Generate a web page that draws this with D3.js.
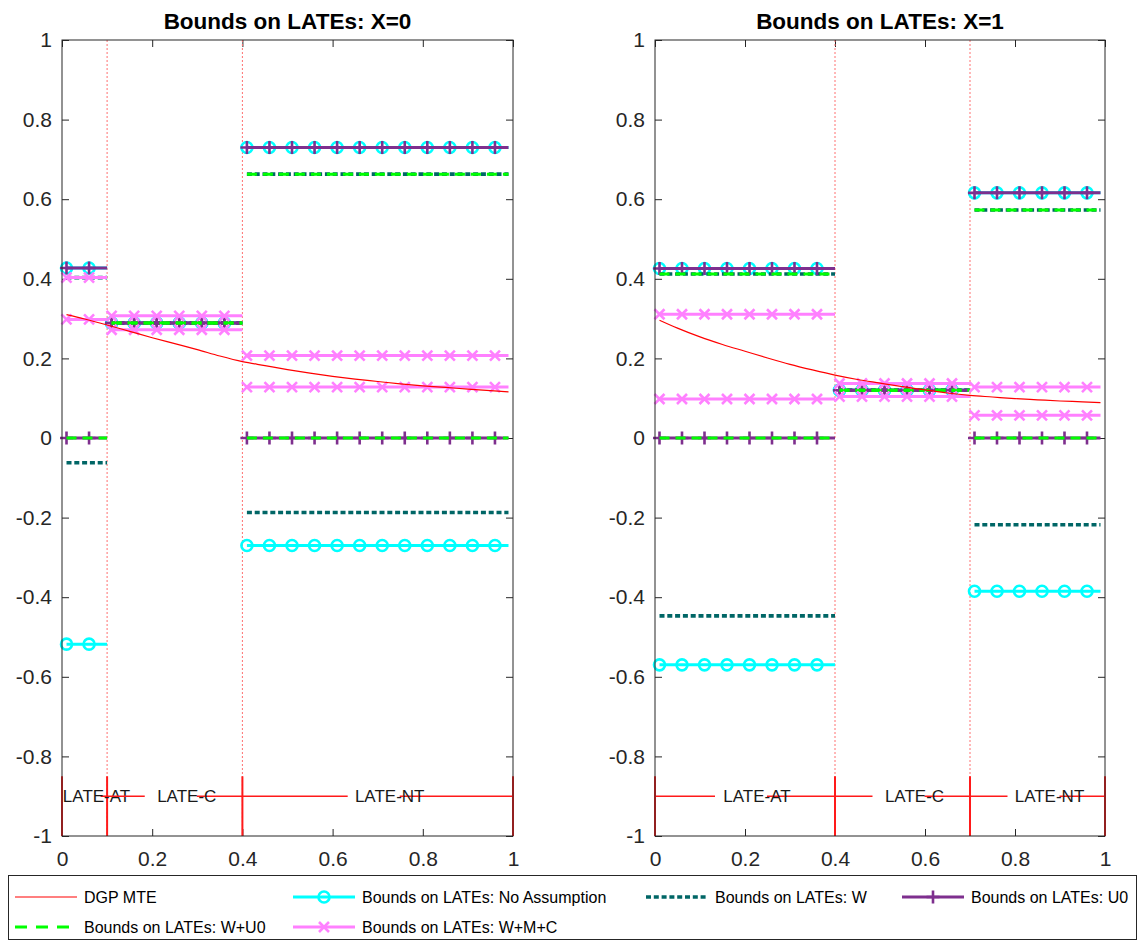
<!DOCTYPE html>
<html><head><meta charset="utf-8">
<script src="https://cdn.jsdelivr.net/npm/d3@7"></script>
<style>
body{margin:0;background:#fff}
svg{display:block;font-family:"Liberation Sans",Arial,Helvetica,sans-serif}
</style>
</head><body>
<svg id="chart" width="1144" height="943"></svg>
<script>
// ---------------- DATA ----------------
const panelTitles = ["Bounds on LATEs: X=0", "Bounds on LATEs: X=1"];
const xTicks = [0, 0.2, 0.4, 0.6, 0.8, 1];
const yTicks = [-1, -0.8, -0.6, -0.4, -0.2, 0, 0.2, 0.4, 0.6, 0.8, 1];
const regionLabels = ["LATE-AT", "LATE-C", "LATE-NT"];

// region boundaries (propensity score u)
const breaksX0 = [0, 0.1, 0.4, 1];
const breaksX1 = [0, 0.4, 0.7, 1];
// first / last grid point of each region
const segFromX0 = [0.01, 0.11, 0.41];
const segToX0   = [0.10, 0.40, 0.99];
const segFromX1 = [0.01, 0.41, 0.71];
const segToX1   = [0.40, 0.70, 0.99];

// DGP MTE curve
const mteU  = [0.01,0.05,0.10,0.15,0.20,0.25,0.30,0.35,0.40,0.45,0.50,0.55,0.60,0.65,0.70,0.75,0.80,0.85,0.90,0.95,0.99];
const mteX0 = [0.310,0.299,0.284,0.268,0.252,0.237,0.222,0.206,0.192,0.182,0.172,0.163,0.155,0.148,0.142,0.136,0.131,0.127,0.123,0.119,0.116];
const mteX1 = [0.296,0.276,0.254,0.235,0.218,0.201,0.185,0.171,0.158,0.147,0.138,0.129,0.121,0.113,0.107,0.103,0.099,0.096,0.093,0.091,0.089];

// bounds [lower, upper] per region (AT, C, NT)
const noAssumpX0 = [[-0.518, 0.427], [0.289, 0.289], [-0.270, 0.730]];
const wX0        = [[-0.062, 0.403], [0.289, 0.289], [-0.187, 0.663]];
const u0X0       = [[0.000, 0.427],  [0.289, 0.289], [0.000, 0.730]];
const wU0X0      = [[0.000, 0.403],  [0.289, 0.289], [0.000, 0.663]];
const wmcX0      = [[0.298, 0.403],  [0.272, 0.307], [0.128, 0.207]];

const noAssumpX1 = [[-0.570, 0.426], [0.120, 0.120], [-0.385, 0.616]];
const wX1        = [[-0.447, 0.412], [0.120, 0.120], [-0.218, 0.573]];
const u0X1       = [[0.000, 0.426],  [0.120, 0.120], [0.000, 0.616]];
const wU0X1      = [[0.000, 0.412],  [0.120, 0.120], [0.000, 0.573]];
const wmcX1      = [[0.098, 0.311],  [0.104, 0.137], [0.057, 0.128]];

const legendLabels = [
  "DGP MTE",
  "Bounds on LATEs: No Assumption",
  "Bounds on LATEs: W",
  "Bounds on LATEs: U0",
  "Bounds on LATEs: W+U0",
  "Bounds on LATEs: W+M+C"
];

// ---------------- STYLES ----------------
const AX = "#262626";
const styles = {
  mte:  {color:"#FF0000", width:1.2, dash:null, marker:null},
  na:   {color:"#00FFFF", width:3, dash:null, marker:"circle"},
  w:    {color:"#006666", width:3.6, dash:"5,2.8", marker:null},
  u0:   {color:"#7E2F8E", width:3, dash:null, marker:"plus"},
  wu0:  {color:"#00FF00", width:3, dash:"10,6", marker:null},
  wmc:  {color:"#FF80FF", width:3, dash:null, marker:"x"}
};

const panels = [
  {title:panelTitles[0], x0:62, x1:513, breaks:breaksX0, from:segFromX0, to:segToX0, mte:mteX0,
   series:[["na",noAssumpX0],["w",wX0],["u0",u0X0],["wu0",wU0X0],["wmc",wmcX0]]},
  {title:panelTitles[1], x0:655, x1:1105, breaks:breaksX1, from:segFromX1, to:segToX1, mte:mteX1,
   series:[["na",noAssumpX1],["w",wX1],["u0",u0X1],["wu0",wU0X1],["wmc",wmcX1]]}
];

const svg = d3.select("#chart");
const y = d3.scaleLinear().domain([-1, 1]).range([836, 40]);
const fmt = d => String(Math.round(d * 10) / 10);

function drawMarker(g, type, cx, cy, st) {
  if (type === "circle") {
    g.append("circle").attr("cx", cx).attr("cy", cy).attr("r", 5.5)
      .attr("fill", "none").attr("stroke", st.color).attr("stroke-width", 2.6);
  } else if (type === "plus") {
    const s = 6.5;
    g.append("path").attr("d", `M${cx - s},${cy}H${cx + s}M${cx},${cy - s}V${cy + s}`)
      .attr("stroke", st.color).attr("stroke-width", 2.6).attr("fill", "none");
  } else if (type === "x") {
    const s = 5;
    g.append("path").attr("d", `M${cx - s},${cy - s}L${cx + s},${cy + s}M${cx - s},${cy + s}L${cx + s},${cy - s}`)
      .attr("stroke", st.color).attr("stroke-width", 2.6).attr("fill", "none");
  }
}

panels.forEach(p => {
  const x = d3.scaleLinear().domain([0, 1]).range([p.x0, p.x1]);
  const g = svg.append("g");

  // axes
  const left = g.append("g").attr("transform", `translate(${p.x0},0)`)
    .call(d3.axisLeft(y).tickValues(yTicks).tickSize(-7).tickPadding(10).tickFormat(fmt));
  const right = g.append("g").attr("transform", `translate(${p.x1},0)`)
    .call(d3.axisRight(y).tickValues(yTicks).tickSize(-7).tickFormat(""));
  const bottom = g.append("g").attr("transform", `translate(0,836)`)
    .call(d3.axisBottom(x).tickValues(xTicks).tickSize(-7).tickPadding(15).tickFormat(fmt));
  const top = g.append("g").attr("transform", `translate(0,40)`)
    .call(d3.axisTop(x).tickValues(xTicks).tickSize(-7).tickFormat(""));
  [left, right, bottom, top].forEach(a => {
    a.select(".domain").remove();
    a.selectAll("line").attr("stroke", AX);
    a.selectAll("text").attr("fill", AX).style("font-size", "21px")
      .style("font-family", '"Liberation Sans",Arial,sans-serif');
  });

  // region separators (dotted)
  p.breaks.slice(1, -1).forEach(b => {
    g.append("line").attr("x1", x(b)).attr("x2", x(b)).attr("y1", 40).attr("y2", 836)
      .attr("stroke", "#FF7070").attr("stroke-width", 1).attr("stroke-dasharray", "2,2");
  });

  // bound series
  p.series.forEach(([key, vals]) => {
    const st = styles[key];
    vals.forEach((bnd, i) => {
      const a = p.from[i], b = p.to[i];
      bnd.forEach(v => {
        const ln = g.append("line").attr("x1", x(a)).attr("x2", x(b)).attr("y1", y(v)).attr("y2", y(v))
          .attr("stroke", st.color).attr("stroke-width", st.width);
        if (st.dash) ln.attr("stroke-dasharray", st.dash);
        if (st.marker) {
          const n = Math.floor((b - a) / 0.05 + 1e-9);
          for (let k = 0; k <= n; k++) {
            const u = a + k * 0.05;
            if (u < b - 1e-9) drawMarker(g, st.marker, x(u), y(v), st);
          }
        }
      });
    });
  });

  // DGP MTE
  const line = d3.line().x((d, i) => x(mteU[i])).y(d => y(d)).curve(d3.curveMonotoneX);
  g.append("path").datum(p.mte).attr("d", line).attr("fill", "none")
    .attr("stroke", styles.mte.color).attr("stroke-width", styles.mte.width);

  // region annotation at bottom
  const ya = y(-0.9), yb0 = y(-0.85), yb1 = y(-1);
  p.breaks.forEach(b => {
    g.append("line").attr("x1", x(b)).attr("x2", x(b)).attr("y1", yb0).attr("y2", yb1)
      .attr("stroke", "#FF1A1A").attr("stroke-width", 2);
  });
  regionLabels.forEach((lab, i) => {
    const xa = x(p.breaks[i]), xb = x(p.breaks[i + 1]);
    const m = (xa + xb) / 2;
    const gap = Math.min(52, (xb - xa) - 5);
    const gc = m - 4;
    [[xa, gc - gap / 2], [gc + gap / 2, xb]].forEach(([s, e]) => {
      if (e > s) g.append("line").attr("x1", s).attr("x2", e).attr("y1", ya).attr("y2", ya)
        .attr("stroke", "#FF1A1A").attr("stroke-width", 1.6);
    });
    g.append("text").attr("x", m + 12).attr("y", ya).attr("dy", "0.35em")
      .attr("text-anchor", "middle").attr("fill", "#1a1a1a").style("font-size", "17px").text(lab);
  });

  // box
  g.append("rect").attr("x", p.x0).attr("y", 40).attr("width", p.x1 - p.x0).attr("height", 796)
    .attr("fill", "none").attr("stroke", AX).attr("stroke-width", 1);

  // title
  g.append("text").attr("x", (p.x0 + p.x1) / 2).attr("y", 28.5).attr("text-anchor", "middle")
    .attr("fill", "#000").style("font-size", "22.5px").style("font-weight", "bold").text(p.title);
});

// ---------------- LEGEND ----------------
const lg = svg.append("g");
lg.append("rect").attr("x", 8.5).attr("y", 875.5).attr("width", 1128).attr("height", 64)
  .attr("fill", "#fff").attr("stroke", AX).attr("stroke-width", 1);
const legendKeys = ["mte", "na", "w", "u0", "wu0", "wmc"];
const colX = [15, 293, 646, 902];
const rowY = [897, 927];
legendKeys.forEach((k, i) => {
  const col = i < 4 ? i : i - 4, row = i < 4 ? 0 : 1;
  const sx = colX[col], sy = rowY[row], sw = 62;
  const st = styles[k];
  const ln = lg.append("line").attr("x1", sx).attr("x2", sx + sw).attr("y1", sy).attr("y2", sy)
    .attr("stroke", st.color).attr("stroke-width", st.width);
  if (st.dash) ln.attr("stroke-dasharray", k === "wu0" ? "12,9" : st.dash);
  if (st.marker) drawMarker(lg, st.marker, sx + sw / 2, sy, st);
  lg.append("text").attr("x", sx + sw + 7).attr("y", sy).attr("dy", "0.35em")
    .attr("fill", "#000").style("font-size", "16px").text(legendLabels[i]);
});
</script>
</body></html>
